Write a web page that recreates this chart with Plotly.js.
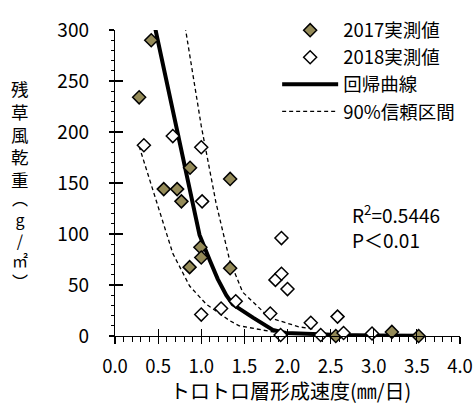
<!DOCTYPE html>
<html>
<head>
<meta charset="utf-8">
<script src="https://cdn.plot.ly/plotly-3.0.1.min.js"></script>
<style>
html,body{margin:0;padding:0;background:#fff;}
#chart{width:473px;height:405px;}
</style>
</head>
<body>
<div id="chart"></div>
<script>
// 2017 measured values
var x2017 = [0.28, 0.42, 0.565, 0.72, 0.77, 0.87, 0.865, 0.99, 1.0, 1.335, 1.335, 2.56, 3.21, 3.52];
var y2017 = [234, 290, 144, 144, 132, 165, 67.5, 87, 77, 154, 66.5, 0, 4, 0];
// 2018 measured values
var x2018 = [0.335, 0.67, 1.0, 1.01, 1.0, 1.23, 1.40, 1.80, 1.86, 1.93, 1.93, 2.0, 1.92, 2.27, 2.385, 2.58, 2.65, 2.98];
var y2018 = [187, 196, 185, 132, 21, 27, 34, 22, 55, 96, 61, 46, 1, 13, 1, 19, 3, 2.5];
// regression curve
var xCurve = [0.28, 0.47, 0.98, 1.10, 1.19, 1.29, 1.365, 1.6, 1.83, 1.98, 2.3, 2.6, 3.0, 3.52];
var yCurve = [375, 300, 99, 74, 56, 40, 31, 18, 6, 3, 1.5, 1, 0.5, 0.3];
// 90% confidence band
var xUpper = [0.80, 1.0, 1.17, 1.33, 1.48, 1.79, 2.13, 2.29];
var yUpper = [310, 206, 131, 74, 43, 18, 9, 7];
var xLower = [0.28, 0.56, 0.67, 0.865, 1.06, 1.33, 1.44, 1.83, 2.29];
var yLower = [186, 110, 81, 49, 31, 15, 10, 4, 2];

var names = ['2017実測値', '2018実測値', '回帰曲線', '90%信頼区間'];
var xTickVals = [0, 0.5, 1, 1.5, 2, 2.5, 3, 3.5, 4];
var xTickText = ['0.0', '0.5', '1.0', '1.5', '2.0', '2.5', '3.0', '3.5', '4.0'];
var yTickVals = [0, 50, 100, 150, 200, 250, 300];
var xTitle = 'トロトロ層形成速度(㎜/日)';
var yTitleMain = '残<br>草<br>風<br>乾<br>重';
var yTitleUnit = '︵<br>g<br>/<br>㎡<br>︶';
var statsText = 'R<sup>2</sup>=0.5446<br>P＜0.01';

var FONT = "'Noto Sans CJK JP', 'Noto Sans', sans-serif";

var traces = [
  {x: xUpper, y: yUpper, mode: 'lines', name: names[3], legendrank: 4,
   line: {color: '#000', width: 1.3, dash: '4px,3px'}, hoverinfo: 'skip'},
  {x: xLower, y: yLower, mode: 'lines', name: names[3], showlegend: false,
   line: {color: '#000', width: 1.3, dash: '4px,3px'}, hoverinfo: 'skip'},
  {x: xCurve, y: yCurve, mode: 'lines', name: names[2], legendrank: 3,
   line: {color: '#000', width: 4}, hoverinfo: 'skip'},
  {x: x2017, y: y2017, mode: 'markers', name: names[0], legendrank: 1, cliponaxis: false,
   marker: {symbol: 'diamond', size: 10, color: '#948a58', line: {color: '#000', width: 1.5}}},
  {x: x2018, y: y2018, mode: 'markers', name: names[1], legendrank: 2, cliponaxis: false,
   marker: {symbol: 'diamond', size: 10, color: '#fff', line: {color: '#000', width: 1.5}}},
  {x: [], y: [], xaxis: 'x2', yaxis: 'y2', showlegend: false, hoverinfo: 'skip', mode: 'markers'}
];

var layout = {
  width: 473, height: 405,
  margin: {l: 115, r: 13, t: 16, b: 69, pad: 0},
  paper_bgcolor: '#fff', plot_bgcolor: '#fff',
  font: {family: FONT, size: 18, color: '#000'},
  showlegend: true,
  legend: {x: 0.47, y: 1.06, xanchor: 'left', yanchor: 'top', bgcolor: 'rgba(0,0,0,0)',
           font: {family: FONT, size: 18.5, color: '#000'}, itemwidth: 56,
           traceorder: 'normal', tracegroupgap: 0},
  xaxis: {range: [0, 4], tickvals: xTickVals, ticktext: xTickText, showgrid: false, zeroline: false,
          showline: true, linecolor: '#000', linewidth: 1.2, ticks: 'outside', ticklen: 7, tickwidth: 1.2, tickcolor: '#000',
          minor: {dtick: 0.1, ticks: 'outside', ticklen: 5, tickwidth: 1, tickcolor: '#000'},
          tickfont: {family: FONT, size: 18.5}, ticklabelstandoff: 7, ticklabeloverflow: 'allow'},
  yaxis: {range: [0, 300], tickvals: yTickVals, showgrid: false, zeroline: false,
          showline: true, linecolor: '#000', linewidth: 1.2, ticks: 'outside', ticklen: 5, tickwidth: 1.2, tickcolor: '#000',
          minor: {dtick: 10, ticks: 'outside', ticklen: 3, tickwidth: 1, tickcolor: '#000'},
          tickfont: {family: FONT, size: 19}, ticklabelstandoff: 16, ticklabeloverflow: 'allow'},
  xaxis2: {overlaying: 'x', anchor: 'y2', range: [0, 4], tickvals: xTickVals, showticklabels: false, showgrid: false,
           zeroline: false, showline: false, ticks: 'inside', ticklen: 7, tickwidth: 1.2, tickcolor: '#000'},
  yaxis2: {overlaying: 'y', anchor: 'x2', range: [0, 300], tickvals: yTickVals, showticklabels: false, showgrid: false,
           zeroline: false, showline: false, ticks: 'inside', ticklen: 8, tickwidth: 1.2, tickcolor: '#000', side: 'left'},
  annotations: [
    {xref: 'paper', yref: 'paper', x: 0.51, y: -0.178, xanchor: 'center', yanchor: 'middle', showarrow: false,
     text: xTitle, font: {family: FONT, size: 20, color: '#000'}},
    {xref: 'paper', yref: 'paper', x: 0.68, y: 0.357, xanchor: 'left', yanchor: 'middle', align: 'left', showarrow: false,
     text: statsText, font: {family: FONT, size: 19, color: '#000'}},
    {xref: 'paper', yref: 'paper', x: -0.275, y: 0.66, xanchor: 'center', yanchor: 'middle', align: 'center', showarrow: false,
     text: yTitleMain, font: {family: FONT, size: 17.5, color: '#000'}},
    {xref: 'paper', yref: 'paper', x: -0.275, y: 0.315, xanchor: 'center', yanchor: 'middle', align: 'center', showarrow: false,
     text: yTitleUnit, font: {family: FONT, size: 16, color: '#000'}}
  ]
};

Plotly.newPlot('chart', traces, layout, {staticPlot: true, displayModeBar: false});
</script>
</body>
</html>
